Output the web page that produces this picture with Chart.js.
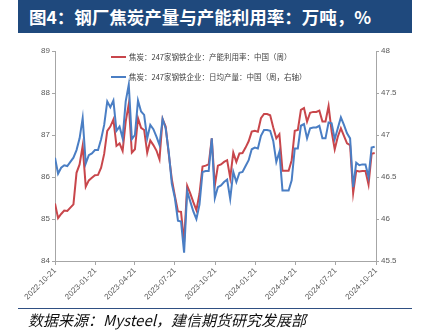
<!DOCTYPE html>
<html>
<head>
<meta charset="utf-8">
<script src="https://cdn.jsdelivr.net/npm/chart.js@4"></script>
<style>
  body { margin: 0; width: 423px; height: 331px; position: relative; background: #fff; overflow: hidden; }
  #title {
    position: absolute; left: 18px; top: 0; width: 383px; height: 33px; padding-left: 11px;
    background: #1F497D; color: #fff; font: bold 17.5px "Noto Sans CJK SC", sans-serif; line-height: 33px;
    white-space: nowrap;
  }
  #chart { position: absolute; left: 0; top: 0; }
  #foot {
    position: absolute; left: 18px; top: 308px; width: 384px; padding-left: 10px;
    border-top: 1px solid #2F4F82; font: italic 15px "Noto Sans CJK SC", sans-serif; color: #111;
    line-height: 22px; white-space: nowrap;
  }
</style>
</head>
<body>
<div id="title">图4：钢厂焦炭产量与产能利用率：万吨，%</div>
<canvas id="chart" width="423" height="331"></canvas>
<div id="foot">数据来源：Mysteel，建信期货研究发展部</div>
<script>
// first week and x-axis tick dates
const startDate = '2022-10-21';
const tickLabels = ['2022-10-21', '2023-01-21', '2023-04-21', '2023-07-21', '2023-10-21',
    '2024-01-21', '2024-04-21', '2024-07-21', '2024-10-21'];

// 焦炭：247家钢铁企业：产能利用率（%，左轴），weekly
const utilization = [
    85.37, 85.02, 85.12, 85.20, 85.19, 85.27, 85.35, 86.10, 86.30, 86.74,
    85.77, 85.92, 85.98, 86.04, 86.05, 86.22, 86.55, 87.10, 87.20, 87.37,
    86.74, 86.80, 86.62, 87.32, 87.74, 86.58, 86.66, 87.40, 87.17, 87.12,
    86.58, 86.87, 86.76, 86.63, 86.42, 87.38, 87.20, 86.55, 85.95, 85.55,
    85.18, 85.17, 84.45, 85.79, 85.61, 85.40, 85.21, 85.60, 86.25, 86.27,
    86.30, 86.92, 85.80, 86.27, 86.30, 86.36, 86.40, 85.98, 86.58, 86.36,
    86.56, 86.57, 86.70, 86.85, 87.08, 87.10, 87.08, 87.40, 87.50, 87.50,
    87.47, 87.18, 86.92, 87.02, 86.15, 86.15, 86.15, 86.40, 87.10, 87.12,
    87.60, 87.64, 87.32, 87.53, 87.55, 87.55, 87.58, 87.32, 87.32, 87.69,
    87.08, 86.66, 86.96, 87.16, 86.98, 86.80, 86.76, 85.62, 86.15, 86.13,
    86.14, 86.14, 85.82, 86.55, 86.57
];

// 焦炭：247家钢铁企业：日均产量（万吨，右轴），weekly
const dailyOutput = [
    46.73, 46.54, 46.61, 46.64, 46.63, 46.68, 46.73, 46.82, 46.96, 47.20,
    46.66, 46.76, 46.78, 46.82, 46.82, 46.95, 47.12, 47.40, 47.33, 47.41,
    47.05, 47.10, 46.96, 47.40, 47.60, 46.95, 47.00, 47.41, 47.28, 47.24,
    46.96, 47.12, 47.07, 46.98, 46.88, 47.19, 47.08, 46.80, 46.42, 46.25,
    45.98, 45.97, 45.60, 46.33, 46.21, 46.09, 46.00, 46.17, 46.56, 46.57,
    46.57, 46.96, 46.25, 46.38, 46.40, 46.44, 46.47, 46.24, 46.56, 46.44,
    46.55, 46.56, 46.63, 46.70, 46.83, 46.85, 46.84, 46.99, 47.06, 47.06,
    47.05, 46.93, 46.68, 46.80, 46.34, 46.34, 46.34, 46.46, 46.84, 46.84,
    47.11, 47.13, 46.96, 47.08, 47.09, 47.09, 47.11, 46.96, 46.96, 47.15,
    47.14, 46.95, 47.08, 47.21, 47.12, 47.02, 46.96, 46.38, 46.67, 46.64,
    46.65, 46.65, 46.50, 46.85, 46.86
];

const seriesNames = ['焦炭：247家钢铁企业：产能利用率：中国（周）', '焦炭：247家钢铁企业：日均产量：中国（周，右轴）'];

const DAY = 86400000;
const dayOf = s => Math.round((Date.parse(s) - Date.parse(startDate)) / DAY);
const tickDays = tickLabels.map(dayOf);
const weekDay = i => i * 7;

const axisColor = '#A6A6A6';
const tickFont = { family: 'Liberation Sans, Arial, sans-serif', size: 8 };

// legend drawn inside the plot, two rows
const innerLegend = {
    id: 'innerLegend',
    afterDraw(chart) {
        const ctx = chart.ctx;
        ctx.save();
        ctx.font = '7.5px "Noto Sans CJK SC", sans-serif';
        ctx.textBaseline = 'middle';
        chart.data.datasets.forEach((ds, i) => {
            const y = 57 + i * 20;
            ctx.strokeStyle = ds.borderColor;
            ctx.lineWidth = 2;
            ctx.beginPath();
            ctx.moveTo(111, y);
            ctx.lineTo(126, y);
            ctx.stroke();
            ctx.fillStyle = '#404040';
            ctx.fillText(ds.label, 129, y);
        });
        ctx.restore();
    }
};

new Chart(document.getElementById('chart'), {
    type: 'line',
    data: {
        datasets: [{
            label: seriesNames[0],
            data: utilization.map((v, i) => ({ x: weekDay(i), y: v })),
            borderColor: '#C8464B',
            borderWidth: 2,
            pointRadius: 0,
            yAxisID: 'y',
            order: 1
        }, {
            label: seriesNames[1],
            data: dailyOutput.map((v, i) => ({ x: weekDay(i), y: v })),
            borderColor: '#4A7EC4',
            borderWidth: 2,
            pointRadius: 0,
            yAxisID: 'y1',
            order: 0
        }]
    },
    options: {
        responsive: false,
        devicePixelRatio: 1,
        animation: false,
        layout: { padding: { top: 51, left: 0, right: 0, bottom: 0 } },
        plugins: { legend: { display: false }, tooltip: { enabled: false } },
        scales: {
            x: {
                type: 'linear',
                min: 0,
                max: tickDays[tickDays.length - 1],
                afterBuildTicks: s => { s.ticks = tickDays.map(v => ({ value: v })); },
                afterFit: s => { s.height = 70; },
                ticks: {
                    autoSkip: false,
                    minRotation: 45,
                    maxRotation: 45,
                    color: '#595959',
                    font: tickFont,
                    padding: 1,
                    callback: v => tickLabels[tickDays.indexOf(v)]
                },
                grid: { drawOnChartArea: false, tickLength: 4, color: axisColor },
                border: { color: axisColor }
            },
            y: {
                position: 'left',
                min: 84,
                max: 89,
                afterFit: s => { s.width = 55; },
                ticks: { stepSize: 1, color: '#595959', font: tickFont, padding: 2 },
                grid: { drawOnChartArea: false, tickLength: 3, color: axisColor },
                border: { color: axisColor }
            },
            y1: {
                position: 'right',
                min: 45.5,
                max: 48,
                afterFit: s => { s.width = 47; },
                ticks: { stepSize: 0.5, color: '#595959', font: tickFont, padding: 2, callback: v => String(v) },
                grid: { drawOnChartArea: false, tickLength: 3, color: axisColor },
                border: { color: axisColor }
            }
        }
    },
    plugins: [innerLegend]
});
</script>
</body>
</html>
